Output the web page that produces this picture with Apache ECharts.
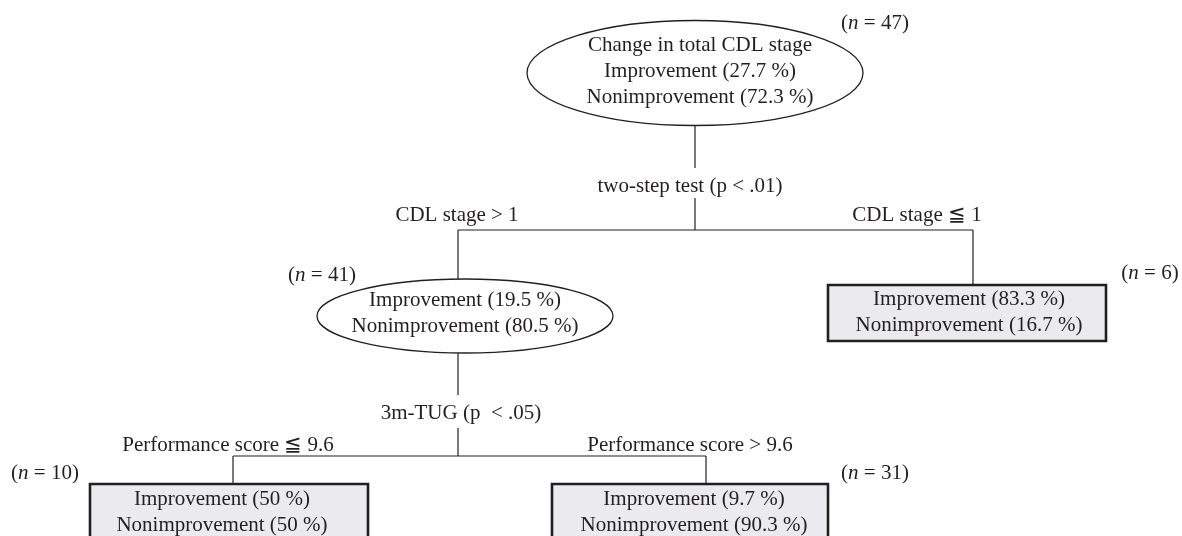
<!DOCTYPE html>
<html lang="en">
<head>
<meta charset="UTF-8">
<title>Change in total CDL stage - decision tree</title>
<script src="https://cdn.jsdelivr.net/npm/echarts@6/dist/echarts.min.js"></script>
<style>
    html, body { margin: 0; padding: 0; background: #fff; }
    #treeChart { width: 1182px; height: 536px; }
</style>
</head>
<body>
<div id="treeChart"></div>
<script type="text/javascript">
    // tree content
    let nodeTitles = ['Change in total CDL stage', '', '', '', ''];
    let improvement = [27.7, 19.5, 83.3, 50, 9.7];
    let nonimprovement = [72.3, 80.5, 16.7, 50, 90.3];
    let nCounts = [47, 41, 6, 10, 31];
    let nodeParent = [-1, 0, 0, 1, 1];
    let terminal = [false, false, true, true, true];
    let splitTests = ['two-step test (p < .01)', '3m-TUG (p  < .05)'];
    let branchLabels = ['', 'CDL stage > 1', 'CDL stage \u2266 1', 'Performance score \u2266 9.6', 'Performance score > 9.6'];

    // layout, in pixels (y grows downward)
    let nodeLayout = [
        {x: 695, y: 73, w: 336, h: 105, tx: 700, ty: 71, nx: 875, ny: 23},
        {x: 465, y: 316, w: 296, h: 74, tx: 465, ty: 313, nx: 322, ny: 275},
        {x: 967, y: 313, w: 278, h: 56, tx: 969, ty: 312, nx: 1150, ny: 273},
        {x: 229, y: 514, w: 278, h: 60, tx: 222, ty: 512, nx: 45, ny: 473},
        {x: 690, y: 514, w: 276, h: 60, tx: 694, ty: 512, nx: 875, ny: 473}
    ];
    // stems of each split: parent bottom, gap for the test text, horizontal bar
    let splitLayout = [
        {x: 695, y0: 126, gapTop: 168, textX: 690, textY: 186, gapBottom: 198, barY: 230},
        {x: 458, y0: 353, gapTop: 395, textX: 461, textY: 413, gapBottom: 428, barY: 456}
    ];
    // drop lines to each child and where the branch condition sits
    let dropLayout = [
        null,
        {x: 458, top: 279, lx: 457, ly: 215},
        {x: 973, top: 285, lx: 917, ly: 215},
        {x: 233, top: 484, lx: 228, ly: 445},
        {x: 706, top: 484, lx: 690, ly: 445}
    ];

    let ink = '#231f20';
    let fontFamily = '"Liberation Serif", "DejaVu Serif", serif';
    let fontSize = 21;

    let treeChart = echarts.init(document.getElementById('treeChart'));

    function pct(v) {
        return String(v) + ' %';
    }

    function nodeText(i) {
        let lines = [];
        if (nodeTitles[i]) lines.push(nodeTitles[i]);
        lines.push('Improvement (' + pct(improvement[i]) + ')');
        lines.push('Nonimprovement (' + pct(nonimprovement[i]) + ')');
        return lines.join('\n');
    }

    function textEl(str, p, extra) {
        let style = {
            text: str,
            x: p[0],
            y: p[1],
            fill: ink,
            font: fontSize + 'px ' + fontFamily,
            align: 'center',
            verticalAlign: 'middle',
            lineHeight: 26
        };
        if (extra) Object.assign(style, extra);
        return {type: 'text', style: style};
    }

    function renderNode(params, api) {
        let i = api.value(0);
        let L = nodeLayout[i];
        let c = api.coord([L.x, L.y]);
        let corner = api.coord([L.x + L.w / 2, L.y + L.h / 2]);
        let hw = Math.abs(corner[0] - c[0]);
        let hh = Math.abs(corner[1] - c[1]);
        let shape;
        if (terminal[i]) {
            shape = {
                type: 'rect',
                shape: {x: c[0] - hw, y: c[1] - hh, width: hw * 2, height: hh * 2},
                style: {fill: '#eaeaef', stroke: ink, lineWidth: 2.6}
            };
        } else {
            shape = {
                type: 'ellipse',
                shape: {cx: c[0], cy: c[1], rx: hw, ry: hh},
                style: {fill: '#fff', stroke: ink, lineWidth: 1.3}
            };
        }
        let children = [shape, textEl(nodeText(i), api.coord([L.tx, L.ty]))];
        // sample size, with an italic n
        children.push(textEl('(' + '{i|n}' + ' = ' + nCounts[i] + ')', api.coord([L.nx, L.ny]), {
            rich: {
                i: {font: 'italic ' + fontSize + 'px ' + fontFamily, fill: ink}
            }
        }));
        // condition written above the drop line
        if (dropLayout[i]) {
            children.push(textEl(branchLabels[i], api.coord([dropLayout[i].lx, dropLayout[i].ly])));
        }
        return {type: 'group', children: children};
    }

    function line(a, b) {
        return {
            type: 'line',
            shape: {x1: a[0], y1: a[1], x2: b[0], y2: b[1]},
            style: {stroke: ink, lineWidth: 1.2}
        };
    }

    function renderSplit(params, api) {
        let s = api.value(0);
        let S = splitLayout[s];
        let parts = [];
        parts.push(line(api.coord([S.x, S.y0]), api.coord([S.x, S.gapTop])));
        parts.push(line(api.coord([S.x, S.gapBottom]), api.coord([S.x, S.barY])));
        let kids = [];
        for (let i = 0; i < nodeParent.length; i++) {
            if (nodeParent[i] === s) kids.push(i);
        }
        let xs = kids.map(k => dropLayout[k].x);
        parts.push(line(api.coord([Math.min.apply(null, xs), S.barY]), api.coord([Math.max.apply(null, xs), S.barY])));
        kids.forEach(function (k) {
            parts.push(line(api.coord([dropLayout[k].x, S.barY]), api.coord([dropLayout[k].x, dropLayout[k].top])));
        });
        parts.push(textEl(splitTests[s], api.coord([S.textX, S.textY])));
        return {type: 'group', children: parts};
    }

    let option = {
        backgroundColor: '#ffffff',
        animation: false,
        grid: {left: 0, right: 0, top: 0, bottom: 0},
        xAxis: {type: 'value', min: 0, max: 1182, show: false},
        yAxis: {type: 'value', min: 0, max: 536, inverse: true, show: false},
        series: [
            {
                type: 'custom',
                name: 'splits',
                renderItem: renderSplit,
                data: splitTests.map((t, s) => [s, 0])
            },
            {
                type: 'custom',
                name: 'nodes',
                renderItem: renderNode,
                data: nCounts.map((n, i) => [i, 0])
            }
        ]
    };
    treeChart.setOption(option);
</script>
</body>
</html>
